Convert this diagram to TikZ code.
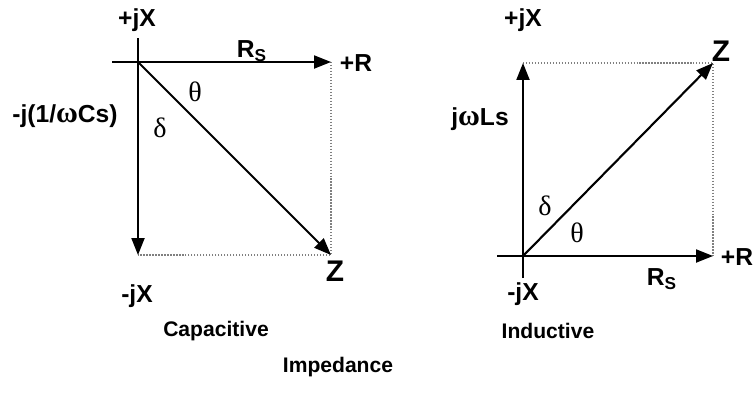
\documentclass[tikz,border=0pt]{standalone}
\usepackage{fontspec}
\setmainfont{Liberation Sans}
\newfontfamily\grk{Liberation Serif}
\usetikzlibrary{arrows.meta, positioning, calc}

\begin{document}
\begin{tikzpicture}[x=0.02cm, y=-0.02cm,
  axis/.style={line width=1.2pt, -{Triangle[length=3.4mm,width=2.6mm]}},
  guide/.style={gray, densely dotted, line width=0.7pt},
  lbl/.style={font=\bfseries\fontsize{14}{16}\selectfont, inner sep=0pt},
  ttl/.style={font=\bfseries\fontsize{12}{14}\selectfont, inner sep=0pt},
  zlbl/.style={font=\bfseries\fontsize{17}{19}\selectfont, inner sep=0pt},
  ang/.style={font=\grk\fontsize{16}{18}\selectfont, inner sep=0pt}]
\useasboundingbox (0,0) rectangle (753,392);

% Capacitive
\coordinate (c0) at (138,62);
\coordinate (cl) at (112,62);
\coordinate (cr) at (331,62);
\coordinate (ct) at (138,38);
\coordinate (cb) at (138,255);
\coordinate (cz) at (331,255);
\draw[guide] (cr) -- (cz) -- (cb);
\draw[axis] (cl) -- (cr);
\draw[axis] (ct) -- (cb);
\draw[axis] (c0) -- (cz);
\node[lbl] (cpjx) at (137,20) {+jX};
\node[lbl] (cmjx) at (137,296) {-jX};
\node[lbl] (cpr) at (356,63) {+R};
\node[lbl] (crs) at (252,51) {R\textsubscript{S}};
\node[lbl] (cxc) at (65,116) {-j(1/{\grk\fontsize{17}{19}\selectfont ω}Cs)};
\node[ang] (cth) at (195,92) {θ};
\node[ang] (cde) at (160,128) {δ};
\node[zlbl] (cZ) at (335,271) {Z};
\node[ttl] (ccap) at (216,331) {Capacitive};

% Inductive
\coordinate (i0) at (523,256);
\coordinate (il) at (497,256);
\coordinate (ir) at (713,256);
\coordinate (ib) at (523,278);
\coordinate (it) at (523,63);
\coordinate (iz) at (713,63);
\draw[guide] (it) -- (iz) -- (ir);
\draw[axis] (il) -- (ir);
\draw[axis] (ib) -- (it);
\draw[axis] (i0) -- (iz);
\node[lbl] (ipjx) at (523,20) {+jX};
\node[lbl] (imjx) at (523,294) {-jX};
\node[lbl] (ipr) at (737,257) {+R};
\node[lbl] (irs) at (662,279) {R\textsubscript{S}};
\node[lbl] (ixl) at (480,119) {j{\grk\fontsize{17}{19}\selectfont ω}Ls};
\node[ang] (ith) at (577,233) {θ};
\node[ang] (ide) at (545,206) {δ};
\node[zlbl] (iZ) at (721,51) {Z};
\node[ttl] (iind) at (548,331) {Inductive};

% Titel
\node[ttl] (imp) at (338,367) {Impedance};
\end{tikzpicture}
\end{document}
